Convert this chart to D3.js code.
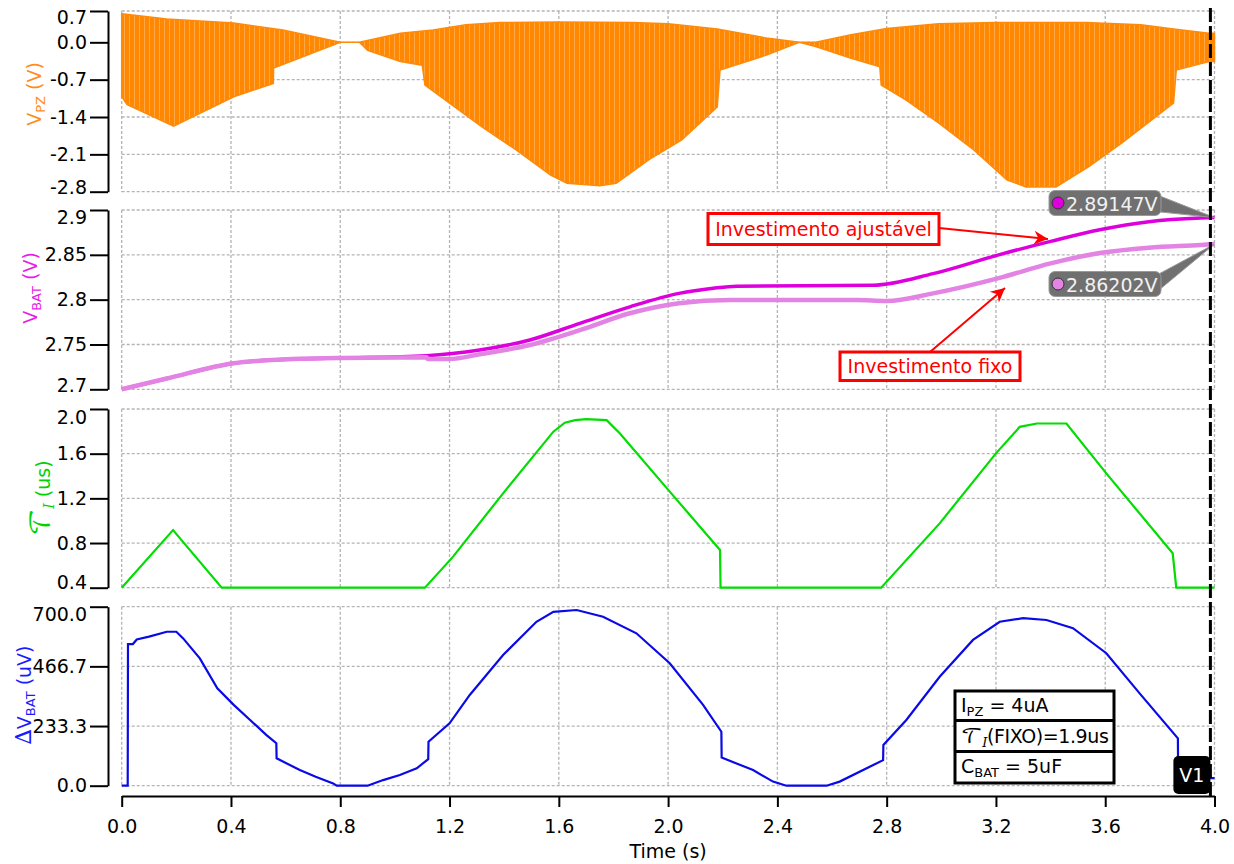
<!DOCTYPE html>
<html>
<head>
<meta charset="utf-8">
<script src="https://cdn.jsdelivr.net/npm/d3@7"></script>
<style>
body { margin: 0; background: #fff; }
text { font-family: "DejaVu Sans", sans-serif; }
</style>
</head>
<body>
<svg id="chart" width="1234" height="864"></svg>
<script>
// ---- dados ----
var xTicks = [0, 0.4, 0.8, 1.2, 1.6, 2.0, 2.4, 2.8, 3.2, 3.6, 4.0];
var xTickLabels = ["0.0", "0.4", "0.8", "1.2", "1.6", "2.0", "2.4", "2.8", "3.2", "3.6", "4.0"];

var vpzTicks = [0.587, 0, -0.7, -1.4, -2.1, -2.8];
var vpzTickLabels = ["0.7", "0.0", "-0.7", "-1.4", "-2.1", "-2.8"];
var vbatTicks = [2.9, 2.85, 2.8, 2.75, 2.7];
var vbatTickLabels = ["2.9", "2.85", "2.8", "2.75", "2.7"];
var tauTicks = [2.0, 1.6, 1.2, 0.8, 0.4];
var tauTickLabels = ["2.0", "1.6", "1.2", "0.8", "0.4"];
var dvTicks = [700, 466.7, 233.3, 0];
var dvTickLabels = ["700.0", "466.7", "233.3", "0.0"];

// envelope da tensao do piezo [t, V]
var vpzUpper = [[0, 0.535], [0.165, 0.435], [0.41, 0.36], [0.59, 0.23], [0.8, 0], [0.87, 0],
    [1.02, 0.17], [1.14, 0.23], [1.26, 0.33], [1.385, 0.37], [1.6, 0.38], [1.87, 0.37],
    [2.0, 0.35], [2.18, 0.25], [2.36, 0.08], [2.48, 0], [2.54, 0], [2.67, 0.14], [2.8, 0.26],
    [2.99, 0.35], [3.2, 0.37], [3.53, 0.37], [3.73, 0.33], [3.85, 0.25], [3.98, 0.17], [4.0, 0.17]];
var vpzLower = [[0, -1.02], [0.02, -1.17], [0.19, -1.57], [0.41, -1.02], [0.555, -0.77], [0.556, -0.48],
    [0.8, 0], [0.87, 0], [0.9, -0.15], [1.02, -0.36], [1.1, -0.43], [1.11, -0.8], [1.2, -1.14],
    [1.32, -1.59], [1.445, -2.02], [1.57, -2.49], [1.63, -2.64], [1.75, -2.69], [1.81, -2.64],
    [1.93, -2.2], [2.05, -1.83], [2.18, -1.21], [2.19, -0.52], [2.36, -0.24], [2.48, 0],
    [2.54, -0.08], [2.67, -0.3], [2.775, -0.46], [2.78, -0.8], [2.87, -1.08], [2.99, -1.51],
    [3.12, -2.02], [3.24, -2.58], [3.31, -2.71], [3.42, -2.71], [3.54, -2.33], [3.66, -1.89],
    [3.85, -1.14], [3.86, -0.52], [3.98, -0.36], [4.0, -0.36]];

// tensao da bateria [t, V]
var vbatAjustavel = [[0, 2.7], [0.165, 2.712], [0.41, 2.729], [0.65, 2.734], [0.8, 2.735],
    [1.116, 2.7375], [1.31, 2.7438], [1.494, 2.755], [1.677, 2.7736], [1.86, 2.792], [2.04, 2.807],
    [2.165, 2.8127], [2.25, 2.815], [2.75, 2.816], [2.97, 2.829], [3.21, 2.85], [3.4, 2.865],
    [3.58, 2.878], [3.76, 2.887], [3.95, 2.891], [4.0, 2.8915]];
var vbatFixo = [[0, 2.7], [0.165, 2.712], [0.41, 2.729], [0.65, 2.734], [0.8, 2.735],
    [1.116, 2.7357], [1.12, 2.7338], [1.2, 2.7338], [1.31, 2.739], [1.494, 2.7494], [1.677, 2.766],
    [1.86, 2.7848], [2.04, 2.796], [2.226, 2.7996], [2.69, 2.7996], [2.8, 2.7985], [2.97, 2.807],
    [3.21, 2.824], [3.4, 2.8405], [3.58, 2.852], [3.76, 2.858], [3.95, 2.861], [4.0, 2.862]];
var vbatMarcadores = ["2.89147V", "2.86202V"];

// tempo de investimento [t, us]
var tau = [[0, 0.4], [0.188, 0.916], [0.366, 0.4], [1.11, 0.4], [1.213, 0.678], [1.396, 1.245],
    [1.58, 1.797], [1.622, 1.877], [1.66, 1.9], [1.7, 1.91], [1.775, 1.9], [1.823, 1.782],
    [2.006, 1.26], [2.19, 0.738], [2.192, 0.4], [2.78, 0.4], [2.994, 0.976], [3.2, 1.603],
    [3.287, 1.84], [3.35, 1.87], [3.458, 1.87], [3.604, 1.424], [3.847, 0.708], [3.86, 0.4], [4.0, 0.4]];

// variacao da bateria [t, uV]
var deltaV = [[0, 0], [0.022, 0], [0.023, 554], [0.041, 554], [0.055, 572], [0.1, 583], [0.165, 602],
    [0.2, 602], [0.225, 576], [0.286, 498], [0.35, 381], [0.41, 316], [0.47, 257], [0.53, 198],
    [0.566, 166], [0.567, 107], [0.652, 61], [0.71, 35], [0.774, 9], [0.787, 0], [0.9, 0],
    [0.957, 22], [1.018, 42], [1.08, 68], [1.122, 104], [1.123, 172], [1.2, 244], [1.274, 355],
    [1.396, 511], [1.518, 641], [1.58, 680], [1.665, 687], [1.762, 661], [1.884, 596], [2.006, 479],
    [2.128, 316], [2.195, 211], [2.196, 110], [2.311, 61], [2.384, 16], [2.433, 0], [2.58, 0],
    [2.628, 16], [2.787, 100], [2.788, 159], [2.872, 257], [2.994, 426], [3.116, 570], [3.214, 641],
    [3.299, 655], [3.385, 648], [3.482, 616], [3.604, 518], [3.726, 361], [3.866, 185], [3.867, 30],
    [4.0, 30]];

var cursorT = 3.985;

// ---- desenho ----
var svg = d3.select("#chart");
var fonte = "DejaVu Sans";
var defs = svg.append("defs");

var x = d3.scaleLinear().domain([0, 4]).range([121.7, 1214.5]);

var paineis = [
    {top: 11, bottom: 191.7, domain: [-2.8, 0.587], ticks: vpzTicks, labels: vpzTickLabels, dTop: 6, dBot: -4},
    {top: 210, bottom: 389.3, domain: [2.7, 2.9], ticks: vbatTicks, labels: vbatTickLabels, dTop: 7, dBot: -4},
    {top: 409, bottom: 587.7, domain: [0.4, 2.0], ticks: tauTicks, labels: tauTickLabels, dTop: 8, dBot: -5},
    {top: 606.7, bottom: 785.7, domain: [0, 700], ticks: dvTicks, labels: dvTickLabels, dTop: 8, dBot: 0}
];

paineis.forEach(function (p) {
    p.y = d3.scaleLinear().domain(p.domain).range([p.bottom, p.top]);

    // grade
    var grade = svg.append("g")
        .attr("stroke", "#b4b4b4")
        .attr("stroke-width", 1.3)
        .attr("stroke-dasharray", "3,2");
    grade.selectAll(".gv").data(xTicks).enter().append("line")
        .attr("x1", d => x(d)).attr("x2", d => x(d))
        .attr("y1", p.top).attr("y2", p.bottom);
    grade.selectAll(".gh").data(p.ticks).enter().append("line")
        .attr("x1", x(0)).attr("x2", x(4))
        .attr("y1", d => p.y(d)).attr("y2", d => p.y(d));

    // eixo Y
    var g = svg.append("g")
        .attr("transform", "translate(108,0)")
        .call(d3.axisLeft(p.y).tickValues(p.ticks)
            .tickFormat(function (d, i) { return p.labels[i]; })
            .tickSize(18).tickSizeOuter(0).tickPadding(3));
    g.attr("font-size", 19).attr("font-family", fonte);
    g.select(".domain").attr("stroke-width", 2);
    g.selectAll(".tick line").attr("stroke-width", 2);
    g.selectAll(".tick text").attr("fill", "#000")
        .attr("y", function (d) {
            if (d === p.domain[1]) return p.dTop;
            if (d === p.domain[0]) return p.dBot;
            return 0;
        });
});

var yPz = paineis[0].y, yBat = paineis[1].y, yTau = paineis[2].y, yDv = paineis[3].y;

// eixo X
var gx = svg.append("g")
    .attr("transform", "translate(0,796)")
    .call(d3.axisBottom(x).tickValues(xTicks)
        .tickFormat(function (d, i) { return xTickLabels[i]; })
        .tickSize(11).tickSizeOuter(0).tickPadding(13));
gx.attr("font-size", 19).attr("font-family", fonte);
gx.select(".domain").attr("stroke-width", 2);
gx.selectAll(".tick line").attr("stroke-width", 2);
gx.selectAll(".tick text").attr("fill", "#000");

svg.append("text")
    .attr("x", (x(0) + x(4)) / 2).attr("y", 858)
    .attr("text-anchor", "middle")
    .attr("font-size", 19)
    .text("Time (s)");

// V_PZ (oscilacao densa: preenchimento listrado)
var listra = defs.append("pattern")
    .attr("id", "osc")
    .attr("width", 5).attr("height", 20)
    .attr("patternUnits", "userSpaceOnUse");
listra.append("rect").attr("width", 5).attr("height", 20).attr("fill", "#ff8800");
listra.append("rect").attr("x", 4).attr("width", 1).attr("height", 20).attr("fill", "#ffa84a");

var poligono = d3.line().x(d => x(d[0])).y(d => yPz(d[1]));
svg.append("path")
    .attr("d", poligono(vpzUpper.concat(vpzLower.slice().reverse())) + "Z")
    .attr("fill", "url(#osc)")
    .attr("stroke", "#ff8a0a")
    .attr("stroke-width", 1.5);

// V_BAT
var linhaBat = d3.line().x(d => x(d[0])).y(d => yBat(d[1])).curve(d3.curveMonotoneX);
svg.append("path")
    .attr("d", linhaBat(vbatAjustavel))
    .attr("fill", "none").attr("stroke", "#dd00dd").attr("stroke-width", 3.5);
svg.append("path")
    .attr("d", linhaBat(vbatFixo))
    .attr("fill", "none").attr("stroke", "#e383e3").attr("stroke-width", 4.5);

// tau
var linhaTau = d3.line().x(d => x(d[0])).y(d => yTau(d[1]));
svg.append("path")
    .attr("d", linhaTau(tau))
    .attr("fill", "none").attr("stroke", "#00dd00").attr("stroke-width", 2.2);

// delta V
var linhaDv = d3.line().x(d => x(d[0])).y(d => yDv(d[1]));
svg.append("path")
    .attr("d", linhaDv(deltaV))
    .attr("fill", "none").attr("stroke", "#0a0ae6").attr("stroke-width", 2.2);

// texto com indices
function partesTexto(t, partes) {
    var desl = 0;
    partes.forEach(function (p) {
        var s = t.append("tspan").text(p.t);
        var alvo = p.sub ? 4 : 0;
        s.attr("dy", alvo - desl);
        desl = alvo;
        if (p.sub) s.attr("font-size", 13);
        if (p.fam) s.attr("font-family", p.fam);
        if (p.it) s.attr("font-style", "italic");
        if (p.fs) s.attr("font-size", p.fs);
    });
}

// titulos dos eixos Y
function tituloY(cx, cy, cor, partes) {
    var t = svg.append("text")
        .attr("transform", "translate(" + cx + "," + cy + ") rotate(-90)")
        .attr("text-anchor", "middle")
        .attr("fill", cor)
        .attr("font-size", 19);
    partesTexto(t, partes);
}
tituloY(41, 94, "#ff8c1a", [{t: "V"}, {t: "PZ", sub: true}, {t: " (V)"}]);
tituloY(37, 288, "#e61ee6", [{t: "V"}, {t: "BAT", sub: true}, {t: " (V)"}]);
tituloY(50, 498, "#00d200", [{t: "\u{1D4AF}", fam: "DejaVu Math TeX Gyre, DejaVu Serif", fs: 26},
    {t: "I", sub: true, it: true, fam: "DejaVu Serif", fs: 14}, {t: " (us)"}]);
tituloY(31, 695, "#1a1aff", [{t: "\u2206", fam: "DejaVu Serif", fs: 22}, {t: "V"}, {t: "BAT", sub: true}, {t: " (uV)"}]);

// anotacoes em vermelho
defs.append("marker")
    .attr("id", "seta")
    .attr("viewBox", "0 0 10 10")
    .attr("refX", 10).attr("refY", 5)
    .attr("markerWidth", 25).attr("markerHeight", 14)
    .attr("markerUnits", "userSpaceOnUse")
    .attr("orient", "auto")
    .append("path")
    .attr("d", "M0,0 L10,5 L0,10 L3,5 Z")
    .attr("fill", "#ff0000");

function caixaVermelha(x0, y0, w, h, texto, de, para) {
    svg.append("line")
        .attr("x1", de[0]).attr("y1", de[1]).attr("x2", para[0]).attr("y2", para[1])
        .attr("stroke", "#ff0000").attr("stroke-width", 2)
        .attr("marker-end", "url(#seta)");
    svg.append("rect")
        .attr("x", x0).attr("y", y0).attr("width", w).attr("height", h)
        .attr("fill", "#fff").attr("stroke", "#ff0000").attr("stroke-width", 3);
    svg.append("text")
        .attr("x", x0 + w / 2).attr("y", y0 + h / 2 + 7)
        .attr("text-anchor", "middle")
        .attr("font-size", 19).attr("fill", "#ff0000")
        .text(texto);
}
caixaVermelha(708, 213.5, 231, 31, "Investimento ajust\u00e1vel", [939, 228], [1048, 239]);
caixaVermelha(840, 352, 180, 28.5, "Investimento fixo", [930, 352], [1005, 288]);

// marcadores de valor final
function marcador(by, valor, cor, texto) {
    var px = x(4), py = yBat(valor);
    svg.append("path")
        .attr("d", "M1156," + (by + 4) + " L" + px + "," + py + " L1156," + (by + 21) + " Z")
        .attr("fill", "#707070").attr("stroke", "#9a9a9a").attr("stroke-width", 1);
    svg.append("rect")
        .attr("x", 1049).attr("y", by).attr("width", 112).attr("height", 25).attr("rx", 6)
        .attr("fill", "#707070").attr("stroke", "#9a9a9a").attr("stroke-width", 1);
    svg.append("circle")
        .attr("cx", 1058).attr("cy", by + 12.5).attr("r", 6)
        .attr("fill", cor).attr("stroke", "#333").attr("stroke-width", 1);
    svg.append("text")
        .attr("x", 1066).attr("y", by + 20)
        .attr("font-size", 19).attr("fill", "#f2f2f2")
        .text(texto);
}
marcador(190.5, vbatAjustavel[vbatAjustavel.length - 1][1], "#dd00dd", vbatMarcadores[0]);
marcador(271.5, vbatFixo[vbatFixo.length - 1][1], "#e383e3", vbatMarcadores[1]);

// tabela de parametros
var tab = svg.append("g");
tab.append("rect")
    .attr("x", 955).attr("y", 691).attr("width", 159).attr("height", 92)
    .attr("fill", "#fff").attr("stroke", "#000").attr("stroke-width", 3);
[720.5, 751.5].forEach(function (yy) {
    tab.append("line").attr("x1", 955).attr("x2", 1114).attr("y1", yy).attr("y2", yy)
        .attr("stroke", "#000").attr("stroke-width", 3);
});
function linhaTab(yb, partes, esp) {
    var t = tab.append("text").attr("x", 961).attr("y", yb).attr("font-size", 19).attr("fill", "#000");
    if (esp) t.attr("letter-spacing", esp);
    partesTexto(t, partes);
}
linhaTab(712, [{t: "I"}, {t: "PZ", sub: true}, {t: " = 4uA"}]);
linhaTab(743, [{t: "\u{1D4AF}", fam: "DejaVu Math TeX Gyre, DejaVu Serif", fs: 21},
    {t: "I", sub: true, it: true, fam: "DejaVu Serif"}, {t: "(FIXO)=1.9us"}], -0.4);
linhaTab(773, [{t: "C"}, {t: "BAT", sub: true}, {t: " = 5uF"}]);

// cursor V1
svg.append("line")
    .attr("x1", x(cursorT)).attr("x2", x(cursorT))
    .attr("y1", 8).attr("y2", 796)
    .attr("stroke", "#000").attr("stroke-width", 3)
    .attr("stroke-dasharray", "14,4");
svg.append("rect")
    .attr("x", x(cursorT) - 37).attr("y", 756).attr("width", 37).attr("height", 38).attr("rx", 5)
    .attr("fill", "#000");
svg.append("text")
    .attr("x", x(cursorT) - 18.5).attr("y", 782)
    .attr("text-anchor", "middle")
    .attr("font-size", 19).attr("fill", "#fff")
    .text("V1");
</script>
</body>
</html>
